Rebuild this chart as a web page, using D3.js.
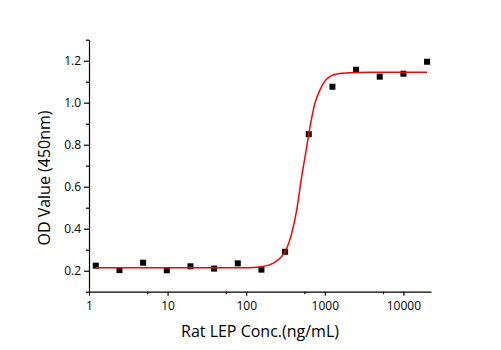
<!DOCTYPE html>
<html>
<head>
<meta charset="utf-8">
<script src="https://cdn.jsdelivr.net/npm/d3@7"></script>
<style>
  body { margin: 0; background: #fff; }
  text { font-family: "Open Sans", sans-serif; fill: #000; }
</style>
</head>
<body>
<div id="chart"></div>
<script>
// data
const conc = [1.22, 2.44, 4.88, 9.77, 19.53, 39.06, 78.13, 156.25, 312.5, 625, 1250, 2500, 5000, 10000, 20000]
const od = [0.224, 0.203, 0.238, 0.202, 0.221, 0.21, 0.235, 0.205, 0.29, 0.85, 1.076, 1.157, 1.124, 1.138, 1.195]

// fitted curve
const fitConc = [1.22, 10, 83, 150, 219, 269, 312, 379, 439, 508, 589, 649, 750, 869, 1057, 1416, 2094, 3758, 20000]
const fitOd = [0.214, 0.214, 0.214, 0.218, 0.235, 0.259, 0.290, 0.378, 0.489, 0.648, 0.790, 0.886, 0.998, 1.061, 1.113, 1.137, 1.143, 1.145, 1.145]

// ticks
const xMajor = [1, 10, 100, 1000, 10000]
const xMinor = [5.5, 55, 550, 5500]
const yMajor = [0.2, 0.4, 0.6, 0.8, 1.0, 1.2]
const yMinor = [0.1, 0.3, 0.5, 0.7, 0.9, 1.1, 1.3]

const width = 501
const height = 350
const plotLeft = 89, plotRight = 431, plotTop = 39.7, plotBottom = 291.7

const svg = d3.select("#chart").append("svg")
    .attr("width", width)
    .attr("height", height)

svg.append("rect").attr("width", width).attr("height", height).attr("fill", "#fff")

const x = d3.scaleLog().domain([1, 22440]).range([plotLeft, plotRight])
const y = d3.scaleLinear().domain([0.1, 1.3]).range([plotBottom, plotTop])

// x axis
const gx = svg.append("g").attr("transform", "translate(0," + plotBottom + ")")
gx.call(d3.axisBottom(x).tickValues(xMajor).tickFormat(d3.format("d")).tickSize(4).tickSizeOuter(0).tickPadding(6))
gx.append("g").call(d3.axisBottom(x).tickValues(xMinor).tickFormat("").tickSize(2.5).tickSizeOuter(0))
    .select(".domain").remove()

// y axis
const gy = svg.append("g").attr("transform", "translate(" + plotLeft + ",0)")
gy.call(d3.axisLeft(y).tickValues(yMajor).tickFormat(d3.format(".1f")).tickSize(5).tickSizeOuter(0).tickPadding(3))
gy.append("g").call(d3.axisLeft(y).tickValues(yMinor).tickFormat("").tickSize(3).tickSizeOuter(0))
    .select(".domain").remove()

svg.selectAll(".tick text").attr("font-size", 12).attr("font-family", "Open Sans").attr("fill", "#000")
svg.selectAll(".domain, .tick line").attr("stroke", "#000").attr("stroke-width", 1.2)

// points
svg.append("g").selectAll("rect")
    .data(conc)
    .join("rect")
    .attr("x", (d) => x(d) - 3)
    .attr("y", (d, i) => y(od[i]) - 3)
    .attr("width", 6)
    .attr("height", 6)
    .attr("fill", "#000")

// fit curve
const line = d3.line()
    .x((d) => x(d))
    .y((d, i) => y(fitOd[i]))
    .curve(d3.curveMonotoneX)

svg.append("path")
    .datum(fitConc)
    .attr("d", line)
    .attr("fill", "none")
    .attr("stroke", "#ff0000")
    .attr("stroke-width", 1.5)

// axis titles
svg.append("text")
    .attr("x", (plotLeft + plotRight) / 2)
    .attr("y", 337)
    .attr("text-anchor", "middle")
    .attr("font-size", 16)
    .text("Rat LEP Conc.(ng/mL)")

svg.append("text")
    .attr("transform", "translate(50,178) rotate(-90)")
    .attr("text-anchor", "middle")
    .attr("font-size", 16)
    .text("OD Value (450nm)")
</script>
</body>
</html>
